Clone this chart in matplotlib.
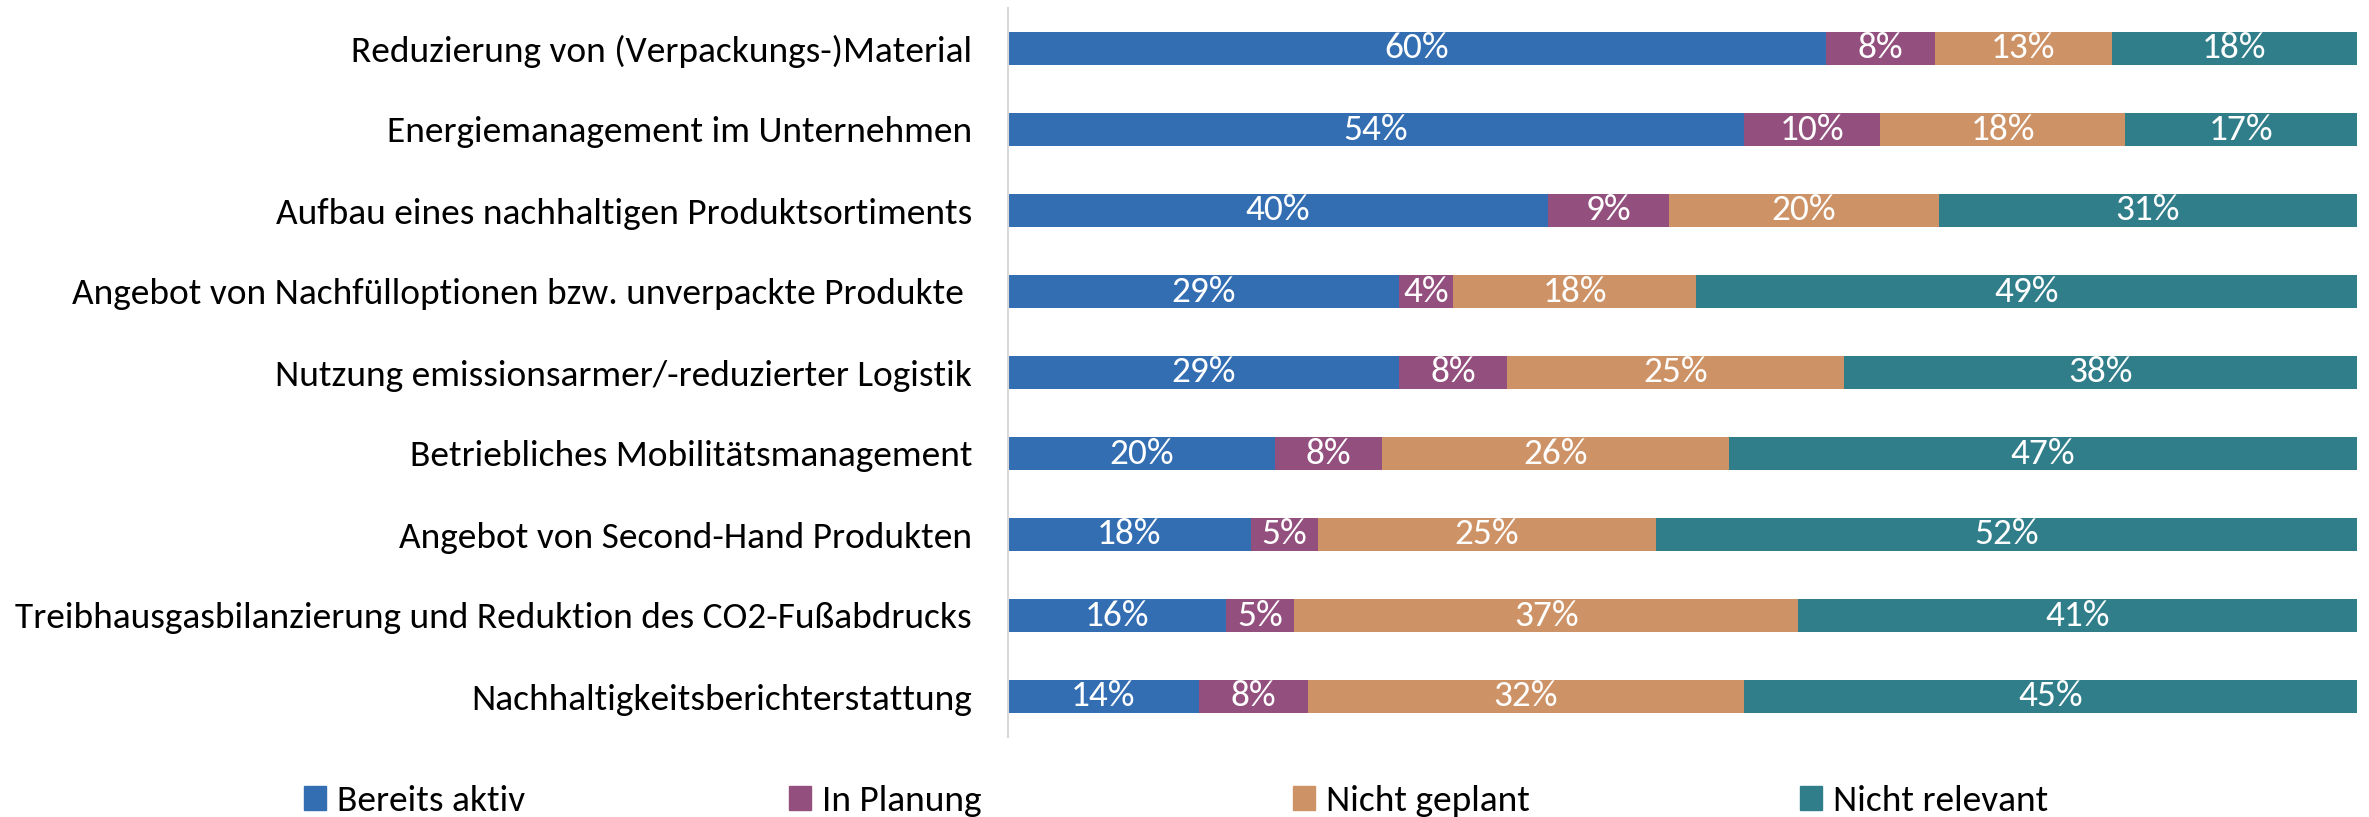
import matplotlib
matplotlib.use("Agg")
import matplotlib.pyplot as plt
from matplotlib import font_manager
from matplotlib.patches import Patch
import numpy as np

categories = [
    "Reduzierung von (Verpackungs-)Material",
    "Energiemanagement im Unternehmen",
    "Aufbau eines nachhaltigen Produktsortiments",
    "Angebot von Nachfülloptionen bzw. unverpackte Produkte ",
    "Nutzung emissionsarmer/-reduzierter Logistik",
    "Betriebliches Mobilitätsmanagement",
    "Angebot von Second-Hand Produkten",
    "Treibhausgasbilanzierung und Reduktion des CO2-Fußabdrucks",
    "Nachhaltigkeitsberichterstattung",
]
series_names = ["Bereits aktiv", "In Planung", "Nicht geplant", "Nicht relevant"]
bereits_aktiv = [60, 54, 40, 29, 29, 20, 18, 16, 14]
in_planung = [8, 10, 9, 4, 8, 8, 5, 5, 8]
nicht_geplant = [13, 18, 20, 18, 25, 26, 25, 37, 32]
nicht_relevant = [18, 17, 31, 49, 38, 47, 52, 41, 45]
colors = ["#336EB3", "#93507F", "#CD9366", "#317E8B"]

available = {f.name for f in font_manager.fontManager.ttflist}
fam = [f for f in ["Carlito", "Lato", "Open Sans", "DejaVu Sans"] if f in available]
plt.rcParams["font.family"] = fam

W, H, DPI = 2369, 817, 100
fig = plt.figure(figsize=(W / DPI, H / DPI), dpi=DPI)
ax = fig.add_axes([1008 / W, 1 - 737 / H, (2357 - 1008) / W, (737 - 8) / H])

# determine font size so longest label spans ~957 px
renderer = fig.canvas.get_renderer()
t = fig.text(0, 0, categories[7], fontsize=20)
wpx = t.get_window_extent(renderer).width
t.remove()
fs = 20 * 957 / wpx

data = np.array([bereits_aktiv, in_planung, nicht_geplant, nicht_relevant], dtype=float)
totals = data.sum(axis=0)
shares = data / totals * 100  # 100% stacked
y = np.arange(len(categories))
left = np.zeros(len(categories))
for i, name in enumerate(series_names):
    bars = ax.barh(y, shares[i], left=left, height=0.41, color=colors[i],
                   label=name, edgecolor="none")
    for j, b in enumerate(bars):
        ax.text(left[j] + shares[i][j] / 2, y[j], f"{int(data[i][j])}%",
                ha="center", va="center", color="white", fontsize=fs)
    left += shares[i]

ax.set_xlim(0, 100)
ax.set_ylim(len(categories) - 0.5, -0.5)
ax.set_yticks(y)
ax.set_yticklabels(categories, fontsize=fs, color="black")
ax.tick_params(axis="y", length=0, pad=36 * 72 / DPI)
ax.set_xticks([])
for s in ["top", "right", "bottom"]:
    ax.spines[s].set_visible(False)
ax.spines["left"].set_color("#D9D9D9")
ax.spines["left"].set_linewidth(1.5)

legend_x = [313, 798, 1302, 1809]
for i, name in enumerate(series_names):
    fig.legend(handles=[Patch(color=colors[i])], labels=[name],
               loc="center left", bbox_to_anchor=(legend_x[i] / W - 0.004, 1 - 801 / H),
               frameon=False, fontsize=fs, handlelength=0.6, handleheight=0.6,
               handletextpad=0.3, borderpad=0, borderaxespad=0)

fig.savefig("out.png", dpi=DPI)
